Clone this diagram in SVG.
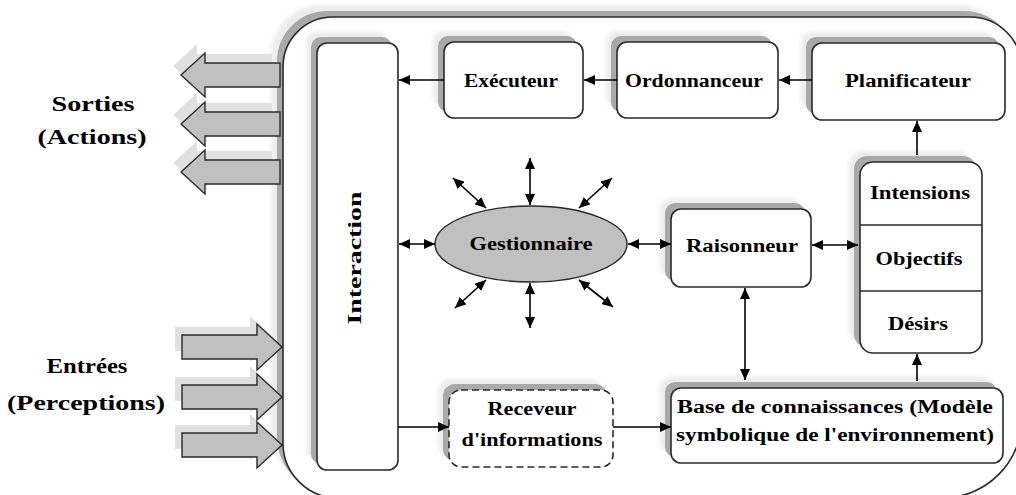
<svg xmlns="http://www.w3.org/2000/svg" width="1016" height="495" viewBox="0 0 1016 495">
  <defs>
    <filter id="soft" x="-20%" y="-20%" width="140%" height="140%">
      <feGaussianBlur stdDeviation="2.2"/>
    </filter>
    <filter id="edge" x="-20%" y="-20%" width="140%" height="140%">
      <feGaussianBlur stdDeviation="0.7"/>
    </filter>
    <marker id="head" markerUnits="userSpaceOnUse" markerWidth="12" markerHeight="10" refX="11" refY="5" orient="auto-start-reverse">
      <path d="M0,0 L11,5 L0,10 Z" fill="#000"/>
    </marker>
    <path id="framePath" d="M333,17 H970 A52,52 0 0 1 1022,69 V418 A80,80 0 0 1 942,498 H338 A55,55 0 0 1 283,443 V67 A50,50 0 0 1 333,17 Z"/>
    <polygon id="outArrow" points="0,0 24,-22 24,-12 99,-12 99,12 24,12 24,22"/>
    <polygon id="inArrow" points="0,-12 75,-12 75,-23 100,0 75,23 75,12 0,12"/>
  </defs>
  <style>
    .halo { fill: #ececec; filter: url(#soft); }
    .sh { fill: #a9a9a9; filter: url(#edge); }
    .box { fill: #ffffff; stroke: #2a2a2a; stroke-width: 1.6; }
    .dash { fill: #ffffff; stroke: #2a2a2a; stroke-width: 1.6; stroke-dasharray: 7 4; }
    .blk { fill: #c0c0c0; stroke: #2a2a2a; stroke-width: 1.4; }
    .blksh { fill: #e0e0e0; filter: url(#edge); }
    .lbl { font-family: "Liberation Serif", "DejaVu Serif", serif; font-weight: bold; font-size: 18px; fill: #000; text-anchor: middle; }
    .side { font-family: "Liberation Serif", "DejaVu Serif", serif; font-weight: bold; font-size: 21px; fill: #000; text-anchor: middle; }
    .ln { stroke: #000; stroke-width: 1.6; fill: none; }
    .one { marker-end: url(#head); }
    .two { marker-start: url(#head); marker-end: url(#head); }
  </style>

  <!-- agent frame (shadow layers) -->
  <g id="frame">
    <use href="#framePath" class="halo" transform="translate(-12,-12)"/>
    <use href="#framePath" class="sh" transform="translate(-6,-6)"/>
  </g>

  <!-- outputs (actions) -->
  <g id="sorties">
    <use href="#outArrow" class="blksh" transform="translate(173,66)"/>
    <use href="#outArrow" class="blksh" transform="translate(173,115)"/>
    <use href="#outArrow" class="blksh" transform="translate(173,163)"/>
    <use href="#outArrow" class="blk" transform="translate(181,75)"/>
    <use href="#outArrow" class="blk" transform="translate(181,124)"/>
    <use href="#outArrow" class="blk" transform="translate(181,172)"/>
    <text class="side" x="93" y="111" textLength="83" lengthAdjust="spacingAndGlyphs">Sorties</text>
    <text class="side" x="92" y="144" textLength="109" lengthAdjust="spacingAndGlyphs">(Actions)</text>
  </g>

  <!-- inputs (perceptions) -->
  <g id="entrees">
    <use href="#inArrow" class="blksh" transform="translate(175,339)"/>
    <use href="#inArrow" class="blksh" transform="translate(175,389)"/>
    <use href="#inArrow" class="blksh" transform="translate(175,437)"/>
    <use href="#inArrow" class="blk" transform="translate(182,347)"/>
    <use href="#inArrow" class="blk" transform="translate(182,397)"/>
    <use href="#inArrow" class="blk" transform="translate(182,445)"/>
    <text class="side" x="87" y="373" textLength="81" lengthAdjust="spacingAndGlyphs">Entrées</text>
    <text class="side" x="86" y="410" textLength="158" lengthAdjust="spacingAndGlyphs">(Perceptions)</text>
  </g>

  <use href="#framePath" fill="#ffffff" stroke="#2a2a2a" stroke-width="1.6"/>

  <g id="interaction">
    <rect class="halo" x="306" y="32" width="81" height="427" rx="10"/>
    <rect class="sh" x="311" y="37" width="81" height="427" rx="10"/>
    <rect class="box" x="317" y="43" width="81" height="427" rx="10"/>
    <text class="lbl" transform="translate(361,258) rotate(-90)" font-size="20" textLength="133" lengthAdjust="spacingAndGlyphs">Interaction</text>
  </g>

  <g id="executeur">
    <rect class="halo" x="433" y="31" width="139" height="76" rx="10"/>
    <rect class="sh" x="438" y="36" width="139" height="76" rx="10"/>
    <rect class="box" x="444" y="42" width="139" height="76" rx="10"/>
    <text class="lbl" x="511" y="87" textLength="94" lengthAdjust="spacingAndGlyphs">Exécuteur</text>
  </g>

  <g id="ordonnanceur">
    <rect class="halo" x="606" y="31" width="161" height="76" rx="10"/>
    <rect class="sh" x="611" y="36" width="161" height="76" rx="10"/>
    <rect class="box" x="617" y="42" width="161" height="76" rx="10"/>
    <text class="lbl" x="694" y="87" textLength="138" lengthAdjust="spacingAndGlyphs">Ordonnanceur</text>
  </g>

  <g id="planificateur">
    <rect class="halo" x="801" y="32" width="193" height="77" rx="10"/>
    <rect class="sh" x="806" y="37" width="193" height="77" rx="10"/>
    <rect class="box" x="812" y="43" width="193" height="77" rx="10"/>
    <text class="lbl" x="908" y="87" textLength="126" lengthAdjust="spacingAndGlyphs">Planificateur</text>
  </g>

  <g id="gestionnaire">
    <ellipse cx="531" cy="244" rx="96" ry="38" fill="#c0c0c0" stroke="#2a2a2a" stroke-width="1.4"/>
    <text class="lbl" x="531" y="250" textLength="123" lengthAdjust="spacingAndGlyphs">Gestionnaire</text>
  </g>

  <g id="raisonneur">
    <rect class="halo" x="660" y="198" width="140" height="78" rx="10"/>
    <rect class="sh" x="665" y="203" width="140" height="78" rx="10"/>
    <rect class="box" x="671" y="209" width="140" height="78" rx="10"/>
    <text class="lbl" x="742" y="252" textLength="112" lengthAdjust="spacingAndGlyphs">Raisonneur</text>
  </g>

  <g id="bdi">
    <rect class="halo" x="849" y="151" width="122" height="191" rx="13"/>
    <rect class="sh" x="854" y="156" width="122" height="191" rx="13"/>
    <rect class="box" x="860" y="162" width="122" height="191" rx="13"/>
    <line x1="860" y1="225" x2="982" y2="225" stroke="#2a2a2a" stroke-width="1.6"/>
    <line x1="860" y1="291" x2="982" y2="291" stroke="#2a2a2a" stroke-width="1.6"/>
    <text class="lbl" x="920" y="199" textLength="100" lengthAdjust="spacingAndGlyphs">Intensions</text>
    <text class="lbl" x="919" y="265" textLength="87" lengthAdjust="spacingAndGlyphs">Objectifs</text>
    <text class="lbl" x="918" y="330" textLength="60" lengthAdjust="spacingAndGlyphs">Désirs</text>
  </g>

  <g id="receveur">
    <rect class="halo" x="438" y="379" width="164" height="77" rx="12"/>
    <rect class="sh" x="443" y="384" width="164" height="77" rx="12"/>
    <rect class="dash" x="449" y="390" width="164" height="77" rx="12"/>
    <text class="lbl" x="532" y="415" textLength="89" lengthAdjust="spacingAndGlyphs">Receveur</text>
    <text class="lbl" x="532" y="446" textLength="141" lengthAdjust="spacingAndGlyphs">d'informations</text>
  </g>

  <g id="base">
    <rect class="halo" x="660" y="377" width="332" height="75" rx="10"/>
    <rect class="sh" x="665" y="382" width="332" height="75" rx="10"/>
    <rect class="box" x="671" y="388" width="332" height="75" rx="10"/>
    <text class="lbl" x="835" y="413" textLength="316" lengthAdjust="spacingAndGlyphs">Base de connaissances (Modèle</text>
    <text class="lbl" x="835" y="441" textLength="318" lengthAdjust="spacingAndGlyphs">symbolique de l'environnement)</text>
  </g>

  <!-- connectors -->
  <g id="connectors">
    <line class="ln one" x1="444" y1="80" x2="399" y2="80"/>
    <line class="ln one" x1="617" y1="80" x2="584" y2="80"/>
    <line class="ln one" x1="812" y1="80" x2="779" y2="80"/>
    <line class="ln one" x1="917" y1="155" x2="917" y2="121"/>
    <line class="ln one" x1="917" y1="381" x2="917" y2="354"/>
    <line class="ln two" x1="745" y1="288" x2="745" y2="380"/>
    <line class="ln two" x1="812" y1="245" x2="858" y2="245"/>
    <line class="ln two" x1="628" y1="244" x2="671" y2="244"/>
    <line class="ln two" x1="399" y1="244" x2="435" y2="244"/>
    <line class="ln one" x1="398" y1="427" x2="449" y2="427"/>
    <line class="ln one" x1="613" y1="427" x2="671" y2="427"/>
    <!-- radial exchanges of the manager -->
    <line class="ln two" x1="530" y1="158" x2="530" y2="205"/>
    <line class="ln two" x1="530" y1="283" x2="530" y2="328"/>
    <line class="ln two" x1="453" y1="178" x2="486" y2="208"/>
    <line class="ln two" x1="612" y1="178" x2="579" y2="208"/>
    <line class="ln two" x1="455" y1="308" x2="486" y2="280"/>
    <line class="ln two" x1="613" y1="307" x2="579" y2="280"/>
  </g>
</svg>
